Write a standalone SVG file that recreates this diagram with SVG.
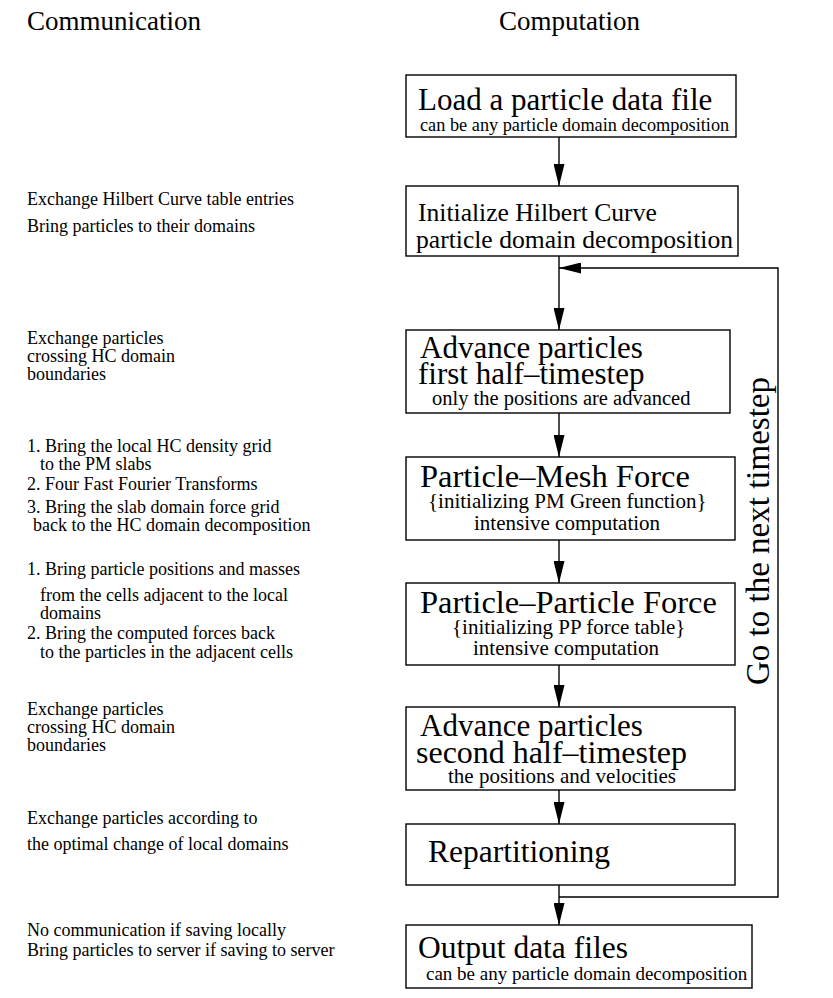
<svg xmlns="http://www.w3.org/2000/svg" width="833" height="998" viewBox="0 0 833 998">
<defs>
<style>
text{font-family:"Liberation Serif","Times New Roman",serif;fill:#000}
.hdr{font-size:27px}
.t{font-size:31px}
.s{font-size:21px}
.c{font-size:18px}
.box{fill:#fff;stroke:#000;stroke-width:1.4}
.ln{fill:none;stroke:#000;stroke-width:1.4}
</style>
<marker id="ah" viewBox="0 0 22 11" refX="22" refY="5.5" markerWidth="22" markerHeight="11" markerUnits="userSpaceOnUse" orient="auto"><path d="M0,0 L22,5.5 L0,11 Z" fill="#000"/></marker>
</defs>
<rect width="833" height="998" fill="#fff"/>
<g id="headers">
<text class="hdr" x="27" y="30">Communication</text>
<text class="hdr" x="499" y="30">Computation</text>
</g>
<g id="comm">
<text class="c" x="27" y="205">Exchange Hilbert Curve table entries</text>
<text class="c" x="27" y="232">Bring particles to their domains</text>
<text class="c" x="27" y="344">Exchange particles</text>
<text class="c" x="27" y="362">crossing HC domain</text>
<text class="c" x="27" y="380">boundaries</text>
<text class="c" x="27" y="452">1. Bring the local HC density grid</text>
<text class="c" x="40" y="470">to the PM slabs</text>
<text class="c" x="27" y="490">2. Four Fast Fourier Transforms</text>
<text class="c" x="27" y="513">3. Bring the slab domain force grid</text>
<text class="c" x="33" y="531">back to the HC domain decomposition</text>
<text class="c" x="27" y="575">1. Bring particle positions and masses</text>
<text class="c" x="40" y="601">from the cells adjacent to the local</text>
<text class="c" x="40" y="619">domains</text>
<text class="c" x="27" y="639">2. Bring the computed forces back</text>
<text class="c" x="40" y="658">to the particles in the adjacent cells</text>
<text class="c" x="27" y="715">Exchange particles</text>
<text class="c" x="27" y="733">crossing HC domain</text>
<text class="c" x="27" y="751">boundaries</text>
<text class="c" x="27" y="824">Exchange particles according to</text>
<text class="c" x="27" y="850">the optimal change of local domains</text>
<text class="c" x="27" y="936">No communication if saving locally</text>
<text class="c" x="27" y="956">Bring particles to server if saving to server</text>
</g>
<g id="connectors">
<line class="ln" x1="559" y1="137" x2="559" y2="186" marker-end="url(#ah)"/>
<line class="ln" x1="559" y1="256" x2="559" y2="330" marker-end="url(#ah)"/>
<line class="ln" x1="559" y1="413" x2="559" y2="457" marker-end="url(#ah)"/>
<line class="ln" x1="559" y1="540" x2="559" y2="583" marker-end="url(#ah)"/>
<line class="ln" x1="559" y1="665" x2="559" y2="707" marker-end="url(#ah)"/>
<line class="ln" x1="559" y1="790" x2="559" y2="824" marker-end="url(#ah)"/>
<line class="ln" x1="559" y1="885" x2="559" y2="925" marker-end="url(#ah)"/>
<polyline class="ln" points="559,897 778,897 778,268 559,268" marker-end="url(#ah)"/>
<text transform="translate(769,531) rotate(-90)" text-anchor="middle" style="font-size:33px">Go to the next timestep</text>
</g>
<g id="n1"><rect class="box" x="406" y="75" width="330" height="62"/>
<text class="t" x="418" y="110">Load a particle data file</text>
<text x="420" y="131" style="font-size:18.3px">can be any particle domain decomposition</text></g>
<g id="n2"><rect class="box" x="406" y="186" width="332" height="70"/>
<text x="418" y="221" style="font-size:25.6px">Initialize Hilbert Curve</text>
<text x="416" y="248" style="font-size:25.6px">particle domain decomposition</text></g>
<g id="n3"><rect class="box" x="406" y="330" width="324" height="83"/>
<text class="t" x="420" y="358">Advance particles</text>
<text class="t" x="418" y="384">first half–timestep</text>
<text x="432" y="405" style="font-size:20.5px">only the positions are advanced</text></g>
<g id="n4"><rect class="box" x="406" y="457" width="329" height="83"/>
<text x="420" y="487" style="font-size:32.5px">Particle–Mesh Force</text>
<text class="s" x="428" y="508">{initializing PM Green function}</text>
<text class="s" x="474" y="530">intensive computation</text></g>
<g id="n5"><rect class="box" x="406" y="583" width="329" height="82"/>
<text x="420" y="613" style="font-size:32.5px">Particle–Particle Force</text>
<text class="s" x="452" y="634">{initializing PP force table}</text>
<text class="s" x="473" y="655">intensive computation</text></g>
<g id="n6"><rect class="box" x="406" y="707" width="329" height="83"/>
<text class="t" x="420" y="736">Advance particles</text>
<text x="416" y="763" style="font-size:32px">second half–timestep</text>
<text class="s" x="448" y="783">the positions and velocities</text></g>
<g id="n7"><rect class="box" x="406" y="824" width="329" height="61"/>
<text x="428" y="862" style="font-size:31.5px">Repartitioning</text></g>
<g id="n8"><rect class="box" x="406" y="925" width="346" height="63"/>
<text x="418" y="958" style="font-size:31.5px">Output data files</text>
<text x="426" y="980" style="font-size:19px">can be any particle domain decomposition</text></g>
</svg>
